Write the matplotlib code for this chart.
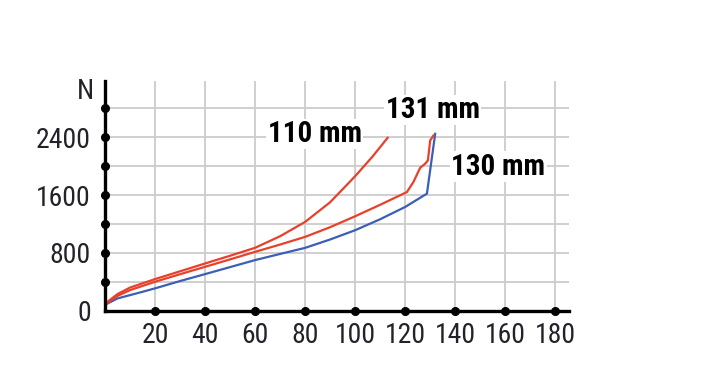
import matplotlib
matplotlib.use("Agg")
import matplotlib.pyplot as plt

plt.rcParams['font.family'] = ['Roboto Condensed', 'Archivo Narrow', 'Barlow Condensed', 'DejaVu Sans']

# curve data (stroke mm -> force N)
x110 = [0.5, 5, 10, 20, 30, 40, 50, 60, 70, 80, 90, 100, 107, 113]
y110 = [110, 230, 320, 437, 545, 653, 760, 870, 1030, 1228, 1500, 1860, 2134, 2392]

x131 = [0.5, 5, 10, 20, 30, 40, 50, 60, 70, 80, 90, 100, 110, 120.7, 123.3, 126, 128, 129.1, 130, 131.3]
y131 = [100, 205, 285, 400, 505, 607, 710, 814, 915, 1021, 1155, 1306, 1465, 1641, 1780, 1977, 2033, 2079, 2354, 2423]

x130 = [0.5, 5, 12.7, 20, 30, 40, 50, 60, 70, 80, 90, 100, 110, 120, 128.7, 132]
y130 = [90, 170, 240, 309, 410, 506, 603, 700, 785, 869, 985, 1113, 1265, 1435, 1619, 2447]

xticks = [20, 40, 60, 80, 100, 120, 140, 160, 180]
yticks = [0, 800, 1600, 2400]
ydots = [400, 800, 1200, 1600, 2000, 2400, 2800]

labels = [("110 mm", 65.1, 2444), ("131 mm", 112.2, 2776), ("130 mm", 138.4, 1992)]

red = '#e8402a'
blue = '#3b5fb5'

fig = plt.figure(figsize=(7.12, 3.69), dpi=100)
ax = fig.add_axes([105 / 712, (369 - 310.7) / 369, 464 / 712, 230.2 / 369])
ax.set_xlim(0, 185.5)
ax.set_ylim(0, 3184)

for v in xticks:
    ax.axvline(v, color='#cccccc', lw=1.3, zorder=1)
for v in ydots:
    ax.axhline(v, color='#cccccc', lw=1.3, zorder=1)

ax.plot(x130, y130, color=blue, lw=1.6, zorder=3)
ax.plot(x131, y131, color=red, lw=1.6, zorder=3)
ax.plot(x110, y110, color=red, lw=1.6, zorder=3)

for s in ['top', 'right']:
    ax.spines[s].set_visible(False)
for s in ['left', 'bottom']:
    ax.spines[s].set_linewidth(2.4)
    ax.spines[s].set_color('black')
    ax.spines[s].set_zorder(5)

ax.plot(xticks, [0] * len(xticks), 'o', color='black', ms=5.5, clip_on=False, zorder=6)
ax.plot([0] * len(ydots), ydots, 'o', color='black', ms=5.5, clip_on=False, zorder=6)

ax.set_xticks(xticks)
ax.set_yticks(yticks)
ax.tick_params(length=0, labelsize=20, colors='#22222a')
ax.tick_params(axis='x', pad=8)
ax.tick_params(axis='y', pad=10)

ax.text(-4.5, 3025, 'N', ha='right', va='center', fontsize=20, color='#22222a', clip_on=False)

for txt, lx, ly in labels:
    ax.text(lx, ly, txt, ha='left', va='center', fontsize=21, fontweight='bold', color='black',
            zorder=4, bbox=dict(facecolor='white', edgecolor='none', pad=1))

fig.savefig('out.png', dpi=100)
